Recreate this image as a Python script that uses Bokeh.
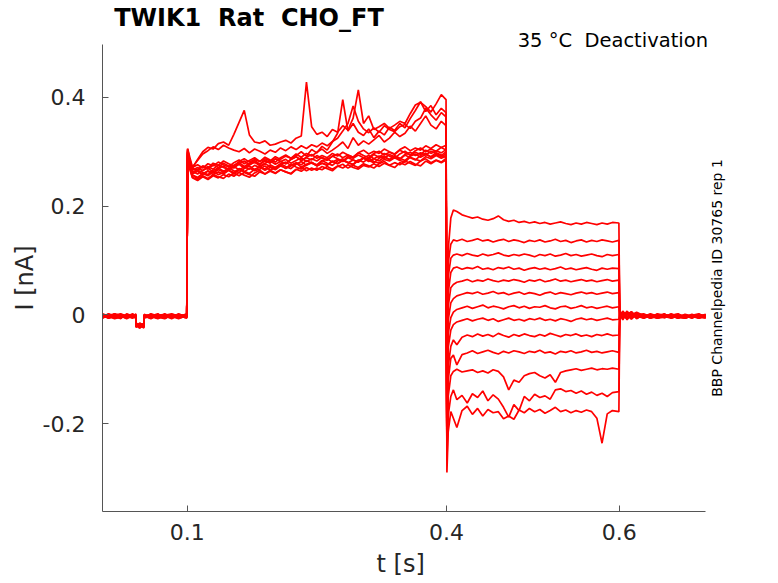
import math
import numpy as np
from bokeh.plotting import figure
from bokeh.models import Range1d, FixedTicker, Label, Title, CustomJSTickFormatter
from bokeh.embed import file_html
from bokeh.resources import INLINE

# sample times [s] of the four protocol segments
pre_t = [0.002, 0.009, 0.016, 0.023, 0.030, 0.037, 0.0405, 0.0408, 0.045,
         0.0499, 0.0502, 0.058, 0.066, 0.074, 0.082, 0.090, 0.0995]
pulse_t = [0.1005, 0.103, 0.106, 0.112, 0.118, 0.124, 0.130, 0.136, 0.142, 0.148,
           0.154, 0.160, 0.166, 0.172, 0.178, 0.184, 0.190, 0.196, 0.202, 0.208,
           0.214, 0.220, 0.226, 0.232, 0.238, 0.244, 0.250, 0.256, 0.262, 0.268,
           0.274, 0.280, 0.286, 0.292, 0.298, 0.304, 0.310, 0.316, 0.322, 0.328,
           0.334, 0.340, 0.346, 0.352, 0.358, 0.364, 0.370, 0.376, 0.382, 0.388,
           0.394, 0.3995]
deact_t = [0.4005, 0.402, 0.405, 0.408, 0.412, 0.418, 0.424, 0.430, 0.436, 0.442, 0.448, 0.454,
           0.460, 0.466, 0.472, 0.478, 0.484, 0.490, 0.496, 0.502, 0.508, 0.514, 0.520, 0.526,
           0.532, 0.538, 0.544, 0.550, 0.556, 0.562, 0.568, 0.574, 0.580, 0.586, 0.592, 0.5995]
post_t = [0.6005, 0.604, 0.609, 0.614, 0.620, 0.628, 0.636, 0.644, 0.652, 0.660,
          0.668, 0.676, 0.684, 0.692, 0.700]

# currents in pA, one row per sweep (sweep 1 = highest tail current)
pre_pa = [
    [-1, -4, 2, -5, 0, -3, -2, -18, -22, -16, -4, 1, -3, -6, 0, -2, -4],
    [-3, 1, -5, -1, -6, 2, -3, -21, -15, -20, -1, -5, 0, -2, -7, 1, -3],
    [2, -2, -6, 0, -3, -5, 1, -16, -24, -19, -3, -1, -6, 2, -4, -5, 0],
    [-5, -1, 0, -7, 2, -2, -4, -20, -18, -23, -2, -6, 1, -4, -1, -6, -2],
    [0, -6, -2, 1, -4, -1, -5, -17, -21, -15, 0, -3, -7, -1, 2, -3, -5],
    [-4, 2, -3, -2, -7, 0, -1, -22, -17, -20, -5, 2, -2, -5, -3, 0, -6],
    [1, -3, -7, -4, 0, -6, -2, -15, -19, -24, -3, -4, -1, 1, -6, -2, 1],
    [-6, 0, 1, -3, -5, 1, -4, -19, -23, -17, -1, 0, -5, -3, -2, -7, -1],
    [-2, -5, -1, 2, -2, -4, 0, -23, -16, -18, -6, -2, 2, -6, 1, -1, -3],
    [-3, -1, -4, -6, 1, -3, -6, -18, -20, -22, 1, -5, -3, 0, -5, 2, -4],
    [0, -4, 2, -1, -6, -2, -1, -20, -24, -16, -2, -7, 0, -4, -1, -4, 2],
    [-5, 1, -2, -5, -1, 1, -3, -16, -18, -21, -4, 1, -4, -7, 0, -3, -5],
    [-1, -6, -3, 0, -4, -5, 2, -21, -19, -17, -3, -2, -6, -1, -3, 0, -2],
]

pulse_pa = [
    [296, 272, 257, 251, 260, 256, 263, 258, 262, 266,
     259, 267, 263, 270, 265, 268, 274, 266, 271, 276,
     269, 274, 279, 272, 277, 281, 274, 279, 276, 283,
     278, 284, 280, 277, 285, 281, 288, 282, 279, 286,
     283, 289, 284, 281, 290, 286, 283, 291, 287, 293,
     288, 292],
    [302, 278, 264, 259, 266, 270, 263, 269, 274, 267,
     272, 277, 270, 276, 281, 274, 279, 283, 277, 282,
     286, 279, 284, 289, 282, 287, 283, 290, 285, 292,
     287, 283, 291, 288, 294, 289, 286, 295, 290, 297,
     292, 288, 296, 301, 294, 299, 295, 303, 297, 302,
     298, 304],
    [291, 268, 252, 247, 254, 249, 256, 252, 258, 254,
     261, 256, 262, 258, 255, 263, 259, 266, 261, 267,
     263, 260, 268, 264, 271, 266, 270, 267, 273, 268,
     274, 270, 276, 271, 268, 275, 272, 278, 273, 279,
     275, 271, 280, 276, 282, 277, 274, 283, 278, 284,
     280, 285],
    [305, 284, 270, 265, 273, 268, 276, 271, 279, 274,
     270, 278, 283, 276, 281, 277, 285, 280, 287, 282,
     278, 286, 291, 284, 289, 285, 293, 288, 284, 292,
     296, 289, 294, 290, 298, 293, 289, 297, 301, 294,
     299, 295, 303, 298, 294, 302, 307, 300, 305, 301,
     308, 303],
    [298, 275, 259, 264, 258, 265, 261, 267, 263, 270,
     265, 262, 269, 274, 267, 272, 268, 276, 271, 278,
     273, 269, 277, 282, 275, 280, 276, 284, 279, 275,
     283, 287, 280, 285, 281, 289, 284, 280, 288, 292,
     285, 290, 286, 294, 289, 285, 293, 297, 290, 295,
     291, 296],
    [303, 281, 266, 271, 265, 273, 268, 276, 271, 267,
     275, 280, 273, 279, 284, 277, 283, 279, 287, 282,
     278, 286, 291, 284, 290, 295, 288, 293, 289, 297,
     292, 299, 294, 290, 298, 303, 296, 301, 297, 305,
     300, 296, 304, 309, 302, 307, 303, 311, 306, 313,
     308, 312],
    [294, 270, 253, 249, 256, 251, 258, 254, 251, 259,
     255, 262, 257, 253, 261, 266, 259, 264, 260, 267,
     263, 259, 267, 271, 265, 270, 266, 273, 269, 265,
     273, 277, 270, 275, 271, 278, 274, 270, 278, 282,
     275, 280, 276, 283, 279, 275, 283, 287, 280, 285,
     281, 288],
    [300, 276, 261, 266, 262, 258, 266, 270, 264, 269,
     273, 267, 272, 268, 275, 271, 278, 273, 269, 277,
     281, 275, 280, 276, 284, 279, 275, 283, 287, 281,
     286, 282, 289, 285, 281, 289, 293, 287, 292, 288,
     295, 291, 287, 295, 299, 293, 298, 294, 301, 297,
     293, 300],
    [304, 286, 271, 276, 270, 278, 274, 281, 276, 272,
     280, 285, 278, 284, 289, 282, 287, 283, 291, 286,
     292, 288, 296, 290, 297, 292, 299, 305, 297, 303,
     310, 318, 306, 326, 312, 320, 314, 322, 330, 318,
     325, 336, 328, 334, 347, 338, 352, 366, 349, 342,
     356, 348],
    [297, 273, 257, 253, 260, 264, 258, 263, 259, 266,
     262, 269, 264, 260, 268, 272, 266, 271, 267, 274,
     270, 277, 272, 268, 276, 280, 274, 279, 275, 282,
     278, 285, 280, 276, 284, 288, 282, 287, 283, 290,
     286, 293, 288, 284, 292, 296, 290, 295, 291, 298,
     294, 290],
    [300, 280, 262, 268, 274, 270, 279, 275, 283, 278,
     274, 282, 287, 281, 286, 282, 290, 285, 281, 289,
     294, 288, 293, 300, 292, 304, 298, 310, 303, 318,
     334, 396, 338, 352, 336, 330, 342, 326, 338, 331,
     345, 339, 352, 344, 361, 376, 392, 374, 385, 368,
     380, 372],
    [306, 290, 272, 284, 296, 302, 309, 304, 312, 307,
     303, 300, 306, 298, 305, 301, 296, 303, 299, 307,
     302, 309, 304, 311, 306, 313, 309, 316, 311, 319,
     325, 338, 352, 384, 356, 342, 335, 344, 336, 348,
     341, 337, 346, 350, 343, 356, 362, 380, 368, 358,
     372, 364],
    [298, 282, 270, 286, 300, 308, 305, 315, 318, 312,
     332, 354, 376, 331, 318, 316, 320, 312, 314, 318,
     321, 316, 325, 329, 428, 346, 332, 336, 328, 341,
     336, 348, 340, 362, 414, 352, 366, 341, 346, 352,
     343, 349, 356, 352, 370, 386, 391, 383, 373, 388,
     405, 396],
]

deact_pa = [
    [-262, 120, 178, 193, 190, 184, 181, 178, 180, 176, 174, 177,
     182, 175, 172, 174, 170, 172, 169, 171, 168, 170, 167, 169,
     171, 168, 166, 169, 167, 170, 168, 166, 169, 167, 170, 169],
    [-258, 95, 130, 138, 136, 139, 135, 137, 140, 136, 138, 134,
     137, 139, 135, 138, 136, 133, 137, 135, 138, 134, 136, 139,
     135, 137, 133, 136, 138, 134, 137, 135, 138, 136, 134, 137],
    [-255, 70, 104, 110, 112, 109, 113, 110, 108, 112, 109, 111,
     114, 110, 108, 111, 109, 112, 110, 107, 111, 109, 112, 108,
     110, 113, 109, 111, 108, 110, 112, 109, 107, 111, 109, 111],
    [-252, 40, 78, 86, 88, 84, 87, 85, 89, 84, 86, 83,
     87, 85, 88, 84, 86, 82, 85, 87, 84, 86, 83, 85,
     88, 84, 86, 83, 85, 87, 84, 82, 86, 84, 86, 85],
    [-250, 15, 50, 56, 60, 62, 65, 61, 64, 62, 66, 63,
     61, 64, 62, 65, 63, 60, 64, 62, 65, 61, 63, 66,
     62, 64, 61, 63, 65, 62, 64, 61, 63, 65, 62, 64],
    [-248, -10, 22, 30, 35, 38, 41, 39, 42, 38, 40, 43,
     39, 41, 37, 40, 42, 38, 41, 39, 36, 40, 42, 38,
     41, 39, 37, 40, 42, 39, 41, 38, 40, 42, 39, 41],
    [-245, -35, -5, 5, 10, 13, 16, 12, 15, 18, 13, 16,
     14, 11, 15, 17, 13, 16, 12, 15, 14, 17, 13, 11,
     15, 16, 12, 14, 17, 13, 15, 12, 14, 16, 13, 15],
    [-242, -60, -28, -18, -13, -10, -7, -11, -8, -6, -10, -7,
     -12, -9, -6, -10, -8, -11, -7, -9, -6, -10, -8, -11,
     -7, -9, -12, -8, -6, -9, -7, -10, -8, -6, -9, -8],
    [-240, -95, -58, -46, -55, -41, -37, -40, -35, -39, -36, -40,
     -34, -38, -41, -36, -39, -35, -38, -40, -36, -39, -34, -37,
     -40, -36, -38, -35, -39, -37, -40, -36, -38, -35, -38, -37],
    [-245, -120, -80, -74, -92, -73, -70, -66, -71, -68, -65, -69,
     -72, -67, -70, -66, -68, -71, -67, -69, -65, -70, -68, -72,
     -67, -69, -66, -70, -68, -65, -69, -67, -70, -68, -66, -69],
    [-255, -150, -112, -104, -100, -105, -103, -101, -106, -103, -107, -101,
     -104, -114, -138, -120, -124, -112, -108, -106, -112, -116, -110, -124,
     -106, -103, -101, -99, -102, -100, -98, -101, -99, -100, -98, -100],
    [-268, -185, -150, -138, -156, -148, -162, -145, -152, -140, -158, -147,
     -155, -170, -188, -165, -176, -150, -158, -146, -152, -149, -155, -138,
     -136, -141, -139, -144, -140, -146, -142, -148, -144, -150, -143, -141],
    [-290, -215, -178, -190, -207, -176, -168, -183, -172, -186, -174, -180,
     -178, -191, -186, -192, -175, -180, -172, -178, -174, -181, -176, -170,
     -178, -175, -180, -176, -179, -175, -178, -190, -236, -182, -176, -178],
]

post_pa = [
    [-8, 4, -9, 2, -6, -1, -4, 1, -5, -2, -6, 0, -3, -5, -1],
    [5, -7, 3, -8, 1, -5, 0, -6, -2, 1, -4, -6, -1, 2, -4],
    [-3, 6, -6, 4, -7, 1, -5, -2, 2, -6, -1, -3, -5, 0, -2],
    [7, -5, 5, -4, 2, -6, -2, 0, -4, -1, 2, -5, -3, -6, 0],
    [-6, 2, -8, 5, -3, 0, -6, -3, 1, -5, -2, -4, 1, -3, -5],
    [3, -9, 6, -2, 4, -4, 1, -5, -3, 0, -6, -1, -4, -2, 1],
    [-9, 5, -4, 6, -5, -2, -5, 2, -1, -4, 0, -6, -2, -5, -3],
    [4, -3, 7, -6, 0, 2, -3, -6, -4, 2, -3, -1, -6, 0, -4],
    [-5, 7, -2, -7, 3, -5, -1, -4, 0, -3, -5, 1, -2, -4, -6],
    [8, -6, 2, 5, -4, -3, 2, -2, -5, -1, 1, -4, 0, -6, -2],
    [-7, 3, -5, 0, 5, -1, -6, 0, -3, -6, -2, 0, -5, -1, -3],
    [6, -8, 4, -3, -2, -6, 0, -4, 1, -3, -5, -2, -4, 1, -5],
    [-4, 1, -7, 3, -5, 0, -3, -5, -2, 0, -4, -6, -1, -3, 0],
]

x_ticks = [0.1, 0.4, 0.6]
y_ticks = [-0.2, 0, 0.2, 0.4]

FONT = "DejaVu Sans"
INK = "#262626"

# the frame reaches up to the top and out to the right so the texts
# placed there are not clipped; the axis lines are cut back with bounds
p = figure(width=770, height=583,
           x_range=Range1d(0.002, 0.7402), y_range=Range1d(-0.3616, 0.5782),
           output_backend="svg", toolbar_location=None, tools="",
           min_border_left=102, min_border_right=30,
           min_border_top=0, min_border_bottom=71)

t_all = pre_t + pulse_t + deact_t + post_t
for a, b, c, d in zip(pre_pa, pulse_pa, deact_pa, post_pa):
    i_na = np.array(a + b + c + d) / 1000.0
    p.line(t_all, i_na, line_color="#ff0000", line_width=1.7)

fmt = CustomJSTickFormatter(code="return tick == 0 ? '0' : tick.toFixed(1);")
p.xaxis.ticker = FixedTicker(ticks=x_ticks)
p.yaxis.ticker = FixedTicker(ticks=y_ticks)
p.xaxis.formatter = fmt
p.yaxis.formatter = fmt
p.xaxis.bounds = (0.002, 0.7)
p.yaxis.bounds = (-0.3616, 0.4975)

for ax in (p.xaxis, p.yaxis):
    ax.axis_line_color = "#555555"
    ax.major_tick_line_color = "#555555"
    ax.major_tick_in = 6
    ax.major_tick_out = 0
    ax.minor_tick_line_color = None
    ax.major_label_text_font = FONT
    ax.major_label_text_font_size = "22px"
    ax.major_label_text_color = INK

p.xaxis.major_label_standoff = 12
p.yaxis.major_label_standoff = 17

# axis titles as side titles so they can sit at the middle of the axis lines
p.add_layout(Title(text="I [nA]", align="left", offset=201, standoff=2,
                   text_font=FONT, text_font_size="24px", text_font_style="normal",
                   text_color=INK), "left")
p.add_layout(Title(text="t [s]", align="left", offset=274, standoff=11,
                   text_line_height=0.75,
                   text_font=FONT, text_font_size="24px", text_font_style="normal",
                   text_color=INK), "below")

p.xgrid.visible = False
p.ygrid.visible = False
p.outline_line_color = None

p.add_layout(Label(x=0.1715, y=0.5452, text="TWIK1 \u00a0Rat \u00a0CHO_FT",
                   text_font=FONT, text_font_size="24px", text_font_style="bold",
                   text_color="#000000", text_align="center", text_baseline="middle"))
p.add_layout(Label(x=0.7026, y=0.5048, text="35 °C \u00a0Deactivation",
                   text_font=FONT, text_font_size="19.5px", text_color="#000000",
                   text_align="right", text_baseline="middle"))
p.add_layout(Label(x=0.7132, y=0.0679, text="BBP Channelpedia ID 30765 rep 1",
                   text_font=FONT, text_font_size="14px", text_color="#000000",
                   angle=math.pi / 2, text_align="center", text_baseline="middle"))

open("out.html", "w").write(file_html(p, INLINE))
